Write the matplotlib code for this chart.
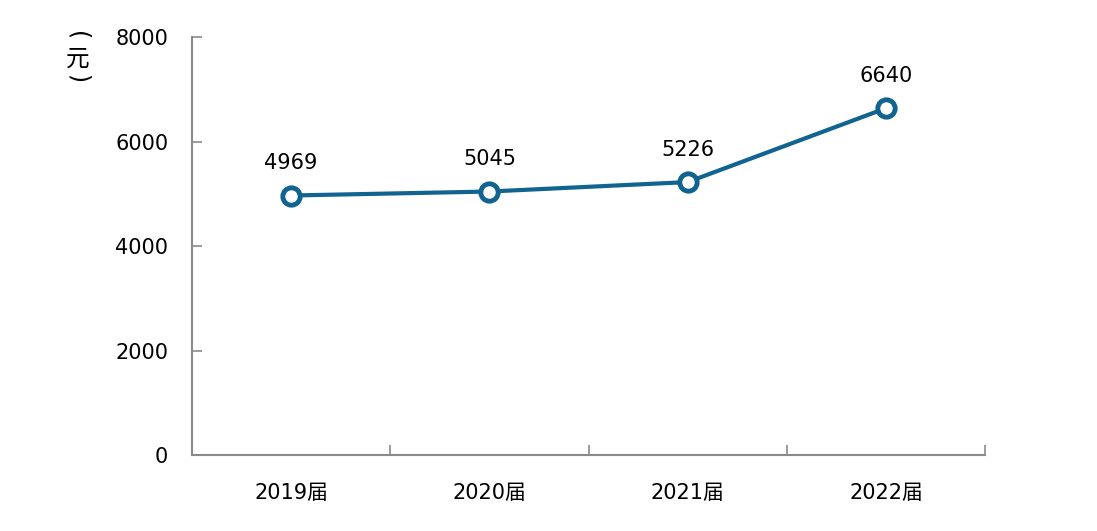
import matplotlib
matplotlib.use('Agg')
from matplotlib import pyplot as plt

plt.rcParams['font.family'] = ['DejaVu Sans', 'Noto Sans CJK SC']

# Chart data
years = ['2019届', '2020届', '2021届', '2022届']
salary = [4969, 5045, 5226, 6640]
y_ticks = [0, 2000, 4000, 6000, 8000]

line_color = '#11648f'
spine_color = '#8a8a8a'

fig = plt.figure(figsize=(10.97, 5.31), dpi=100)
ax = fig.add_axes([0.175, 0.143, 0.723, 0.787])

x = list(range(len(years)))
ax.plot(x, salary, color=line_color, linewidth=3, marker='o', markersize=12.5,
        markerfacecolor='white', markeredgecolor=line_color, markeredgewidth=3.5,
        zorder=3)

for xi, v in zip(x, salary):
    ax.annotate(str(v), (xi, v), xytext=(0, 16), textcoords='offset points',
                ha='center', va='bottom', fontsize=15)

ax.set_xlim(-0.5, len(years) - 0.5)
ax.set_ylim(0, 8000)
ax.set_yticks(y_ticks)
ax.set_yticklabels([str(t) for t in y_ticks], fontsize=15)

ax.set_xticks(x)
ax.set_xticklabels(years, fontsize=15,
                   fontfamily=['DejaVu Sans', 'Noto Sans CJK SC'])
ax.tick_params(axis='x', length=0, pad=20)
ax.set_xticks([i + 0.5 for i in range(len(years))], minor=True)
ax.tick_params(axis='x', which='minor', direction='in', length=7,
               color=spine_color, width=1.2)
ax.tick_params(axis='y', direction='in', length=7, color=spine_color,
               width=1.2, pad=17)

for side in ['top', 'right']:
    ax.spines[side].set_visible(False)
for side in ['left', 'bottom']:
    ax.spines[side].set_color(spine_color)
    ax.spines[side].set_linewidth(1.5)

# vertical unit label: （元） stacked top to bottom
fig.text(0.071, 0.933, '(', rotation=-90, ha='center', va='center', fontsize=17)
fig.text(0.071, 0.889, '元', ha='center', va='center', fontsize=17,
         fontfamily=['Noto Sans CJK SC', 'DejaVu Sans'])
fig.text(0.071, 0.852, ')', rotation=-90, ha='center', va='center', fontsize=17)

fig.savefig('out.png', dpi=100)
